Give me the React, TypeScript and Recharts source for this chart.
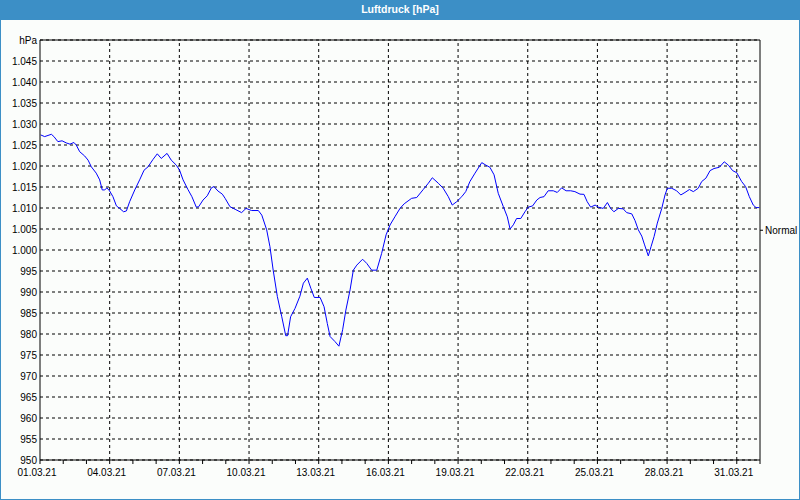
import React from 'react';
import { LineChart, Line, XAxis, YAxis, CartesianGrid, ReferenceLine } from 'recharts';

// time in days since 01.03.21 00:00
const days = [
  0.03, 0.2, 0.49, 0.6, 0.77, 0.95, 1.13, 1.29, 1.46, 1.56, 1.71, 1.92, 2.07, 2.21, 2.42, 2.57, 2.68, 2.79, 2.88, 3.0,
  3.14, 3.29, 3.43, 3.6, 3.72, 3.86, 4.08, 4.29, 4.48, 4.65, 4.87, 5.05, 5.22, 5.47, 5.65, 5.87, 6.01, 6.16, 6.37, 6.54,
  6.73, 6.83, 7.02, 7.2, 7.38, 7.49, 7.66, 7.85, 7.97, 8.18, 8.4, 8.68, 8.87, 9.11, 9.4, 9.55, 9.76, 9.9, 10.04, 10.22,
  10.41, 10.58, 10.66, 10.79, 10.98, 11.19, 11.34, 11.51, 11.66, 11.81, 12.06, 12.23, 12.37, 12.49, 12.7, 12.87, 13.03, 13.17, 13.35, 13.49,
  13.64, 13.89, 14.07, 14.28, 14.5, 14.71, 14.9, 15.07, 15.28, 15.5, 15.68, 16.0, 16.22, 16.5, 16.72, 16.89, 17.15, 17.36, 17.58, 17.75,
  17.94, 18.16, 18.33, 18.51, 18.73, 19.02, 19.2, 19.37, 19.55, 19.73, 19.95, 20.12, 20.24, 20.38, 20.52, 20.7, 20.88, 21.02, 21.21, 21.39,
  21.53, 21.7, 21.88, 22.1, 22.27, 22.46, 22.65, 22.85, 23.03, 23.25, 23.42, 23.56, 23.71, 23.9, 24.04, 24.25, 24.43, 24.57, 24.71, 24.9,
  25.11, 25.26, 25.48, 25.62, 25.76, 25.91, 26.02, 26.19, 26.31, 26.44, 26.58, 26.77, 26.91, 27.01, 27.2, 27.41, 27.59, 27.77, 27.96, 28.13,
  28.34, 28.49, 28.67, 28.85, 29.02, 29.25, 29.46, 29.64, 29.82, 30.0, 30.21, 30.38, 30.54, 30.71, 30.83, 30.97,
];

const pressure = [
  1027.4, 1027.0, 1027.55, 1027.0, 1025.8, 1026.0, 1025.5, 1025.2, 1025.6, 1025.0, 1023.4, 1022.4, 1021.4, 1019.8, 1018.3, 1016.7, 1014.3, 1014.3, 1014.8, 1014.05,
  1012.7, 1010.5, 1009.9, 1009.1, 1009.3, 1011.5, 1014.3, 1016.7, 1019.0, 1019.8, 1021.6, 1022.9, 1021.8, 1023.0, 1021.4, 1020.2, 1019.0, 1016.7, 1014.4, 1012.7,
  1010.2, 1010.3, 1011.9, 1012.9, 1014.8, 1015.1, 1014.05, 1013.3, 1012.3, 1010.3, 1009.7, 1008.9, 1009.9, 1009.4, 1009.4, 1008.3, 1004.8, 1000.8, 995.2, 988.9,
  984.1, 979.6, 979.6, 984.1, 986.1, 989.0, 992.1, 993.3, 990.9, 988.7, 988.7, 986.5, 982.5, 979.4, 978.2, 977.1, 981.0, 985.7, 990.5, 995.2,
  996.4, 997.8, 996.8, 995.2, 995.2, 999.2, 1003.6, 1005.95, 1007.9, 1009.9, 1011.0, 1012.3, 1012.5, 1014.4, 1015.9, 1017.2, 1015.9, 1014.7, 1012.7, 1010.7,
  1011.5, 1012.7, 1013.9, 1016.3, 1018.3, 1020.8, 1020.2, 1019.7, 1017.9, 1013.5, 1010.3, 1007.9, 1005.0, 1006.0, 1007.5, 1007.5, 1009.1, 1010.2, 1010.5, 1011.9,
  1012.5, 1012.7, 1014.1, 1014.1, 1013.7, 1014.8, 1014.1, 1014.1, 1013.9, 1013.3, 1013.25, 1011.5, 1010.2, 1010.7, 1010.2, 1009.9, 1011.3, 1009.9, 1009.1, 1009.9,
  1009.8, 1008.9, 1008.6, 1007.0, 1004.8, 1003.3, 1001.4, 998.6, 1000.8, 1003.2, 1006.4, 1009.9, 1013.1, 1014.7, 1014.7, 1014.1, 1013.1, 1013.7, 1014.4, 1013.9,
  1014.7, 1016.3, 1017.1, 1018.9, 1019.4, 1019.7, 1021.0, 1020.2, 1018.9, 1018.4, 1016.3, 1015.1, 1012.7, 1010.7, 1010.1, 1010.1,
];

const xTicks = [0, 1, 2, 3, 4, 5, 6, 7, 8, 9, 10, 11, 12, 13, 14, 15, 16, 17, 18, 19, 20, 21, 22, 23, 24, 25, 26, 27, 28, 29, 30, 31];
const labelDays = [0, 3, 6, 9, 12, 15, 18, 21, 24, 27, 30];
const labelTexts = ['01.03.21', '04.03.21', '07.03.21', '10.03.21', '13.03.21', '16.03.21', '19.03.21', '22.03.21', '25.03.21', '28.03.21', '31.03.21'];
const gridDays = [3, 6, 9, 12, 15, 18, 21, 24, 27, 30];

const yTicks = [950, 955, 960, 965, 970, 975, 980, 985, 990, 995, 1000, 1005, 1010, 1015, 1020, 1025, 1030, 1035, 1040, 1045, 1050];
const normalValue = 1004.7;
const normalLabel = 'Normal';

const data = days.map((d, i) => ({ day: d, p: pressure[i] }));

const fmtY = (v: number) => {
  if (v === 1050) return 'hPa';
  if (v >= 1000) return '1.' + String(v - 1000).padStart(3, '0');
  return String(v);
};

const fmtX = (v: number) => {
  const i = labelDays.indexOf(v);
  return i >= 0 ? labelTexts[i] : '';
};

const BLUE = '#3c8fc6';

export default function App() {
  return (
    <div
      style={{
        position: 'absolute',
        left: 0,
        top: 0,
        width: 800,
        height: 500,
        background: '#fbfdfb',
        fontFamily: '"Liberation Sans", Arial, sans-serif',
        overflow: 'hidden',
      }}
    >
      <div
        style={{
          position: 'absolute',
          left: 0,
          top: 0,
          width: 800,
          height: 20,
          background: BLUE,
          color: '#ffffff',
          fontWeight: 'bold',
          fontSize: 10.5,
          lineHeight: '19px',
          textAlign: 'center',
        }}
      >
        Luftdruck [hPa]
      </div>
      <div style={{ position: 'absolute', left: 0, top: 0 }}>
        <LineChart width={800} height={500} data={data} margin={{ top: 40, right: 0, bottom: 0, left: 0 }}>
          <CartesianGrid vertical={false} stroke="#000" strokeDasharray="3 3" yAxisId="left" />
          {gridDays.map((d) => (
            <ReferenceLine key={d} x={d} yAxisId="left" stroke="#000" strokeDasharray="3 3" />
          ))}
          <ReferenceLine y={1050} yAxisId="left" stroke="#000" />
          <ReferenceLine
            yAxisId="left"
            segment={[
              { x: 31, y: normalValue },
              { x: 31.13, y: normalValue },
            ]}
            ifOverflow="visible"
            stroke="#000"
            label={{ value: normalLabel, position: 'right', fill: '#000', fontSize: 10, offset: 2 }}
          />
          <XAxis
            type="number"
            dataKey="day"
            domain={[0, 31]}
            ticks={xTicks}
            interval={0}
            height={40}
            tickFormatter={fmtX}
            axisLine={{ stroke: '#000' }}
            tickLine={{ stroke: '#000' }}
            tickSize={4}
            tickMargin={5}
            tick={{ fill: '#000', fontSize: 10, dx: -3 }}
          />
          <YAxis
            yAxisId="left"
            type="number"
            domain={[950, 1050]}
            ticks={yTicks}
            interval={0}
            width={40}
            tickFormatter={fmtY}
            axisLine={{ stroke: '#000' }}
            tickLine={false}
            tickSize={0}
            tickMargin={3}
            tick={{ fill: '#000', fontSize: 10 }}
          />
          <YAxis
            yAxisId="right"
            orientation="right"
            type="number"
            domain={[950, 1050]}
            ticks={[]}
            width={40}
            axisLine={{ stroke: '#000' }}
            tickLine={false}
            tick={false}
          />
          <Line
            yAxisId="left"
            type="linear"
            dataKey="p"
            stroke="#0000ff"
            strokeWidth={1}
            dot={false}
            isAnimationActive={false}
          />
        </LineChart>
      </div>
      <div
        style={{
          position: 'absolute',
          left: 0,
          top: 0,
          width: 800,
          height: 500,
          boxSizing: 'border-box',
          border: '1px solid ' + BLUE,
          pointerEvents: 'none',
        }}
      />
    </div>
  );
}
